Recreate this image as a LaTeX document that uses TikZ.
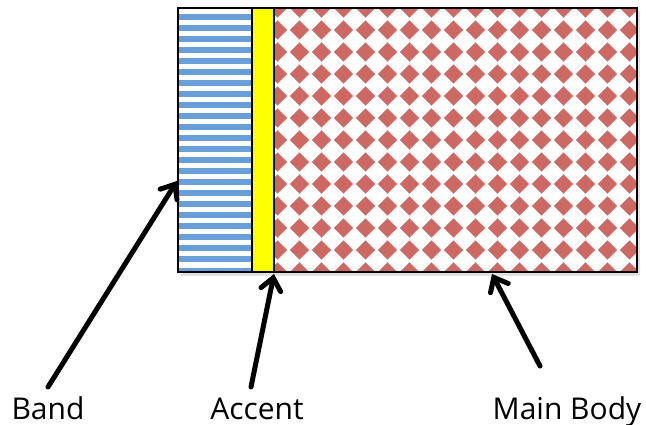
\documentclass[tikz,border=0pt]{standalone}
\usepackage{fontspec}
\setmainfont{Open Sans}
\usetikzlibrary{arrows.meta}
\definecolor{bandblue}{RGB}{104,159,216}
\definecolor{bodyred}{RGB}{206,104,98}
\definecolor{accentyellow}{RGB}{255,255,0}
\tikzset{
  region/.style={draw=black, line width=1.3pt, inner sep=0pt, outer sep=0pt},
  pointer/.style={line width=5pt, black, line cap=round, -{Straight Barb[length=12pt,width=20pt,line cap=round]}},
  lbl/.style={font=\fontsize{30}{33}\selectfont, anchor=base, inner sep=0pt}
}
\begin{document}
\begin{tikzpicture}[x=1pt,y=-1pt]
\useasboundingbox (0,0) rectangle (646,425);
% soft shadow
\fill[black!12] (181,11) rectangle (640,276);
\fill[white] (178,8) rectangle (637,272);
% band stripes
\begin{scope}
  \clip (178,8) rectangle (252,272);
  \foreach \k in {0,...,23} \fill[bandblue] (178,{14.5+11*\k}) rectangle (252,{20+11*\k});
\end{scope}
% accent
\fill[accentyellow] (252,8) rectangle (274,272);
% main body diamonds
\begin{scope}
  \clip (274,8) rectangle (637,272);
  \foreach \i in {0,...,16}
    \foreach \j in {0,...,12}
      \fill[bodyred] ({277.5+22*\i},{8+22*\j}) +(-9.6,0) -- +(0,-9.6) -- +(9.6,0) -- +(0,9.6) -- cycle;
\end{scope}
% named regions
\node[region, minimum width=74pt, minimum height=264pt] (band) at (215,140) {};
\node[region, minimum width=22pt, minimum height=264pt] (accent) at (263,140) {};
\node[region, minimum width=363pt, minimum height=264pt] (body) at (455.5,140) {};
\draw[line width=2pt] (178,8) rectangle (637,272);
% labels
\node[lbl] (bandlbl) at (48,419) {Band};
\node[lbl] (accentlbl) at (257,419) {Accent};
\node[lbl] (bodylbl) at (567,419) {Main Body};
% arrow ends
\coordinate (bandtail) at (48,387);
\coordinate (bandtip) at (177,181);
\coordinate (accenttail) at (251,387);
\coordinate (accenttip) at (274,274);
\coordinate (bodytail) at (540,366);
\coordinate (bodytip) at (492,274);
\draw[pointer] (bandtail) -- (bandtip);
\draw[pointer] (accenttail) -- (accenttip);
\draw[pointer] (bodytail) -- (bodytip);
\end{tikzpicture}
\end{document}
